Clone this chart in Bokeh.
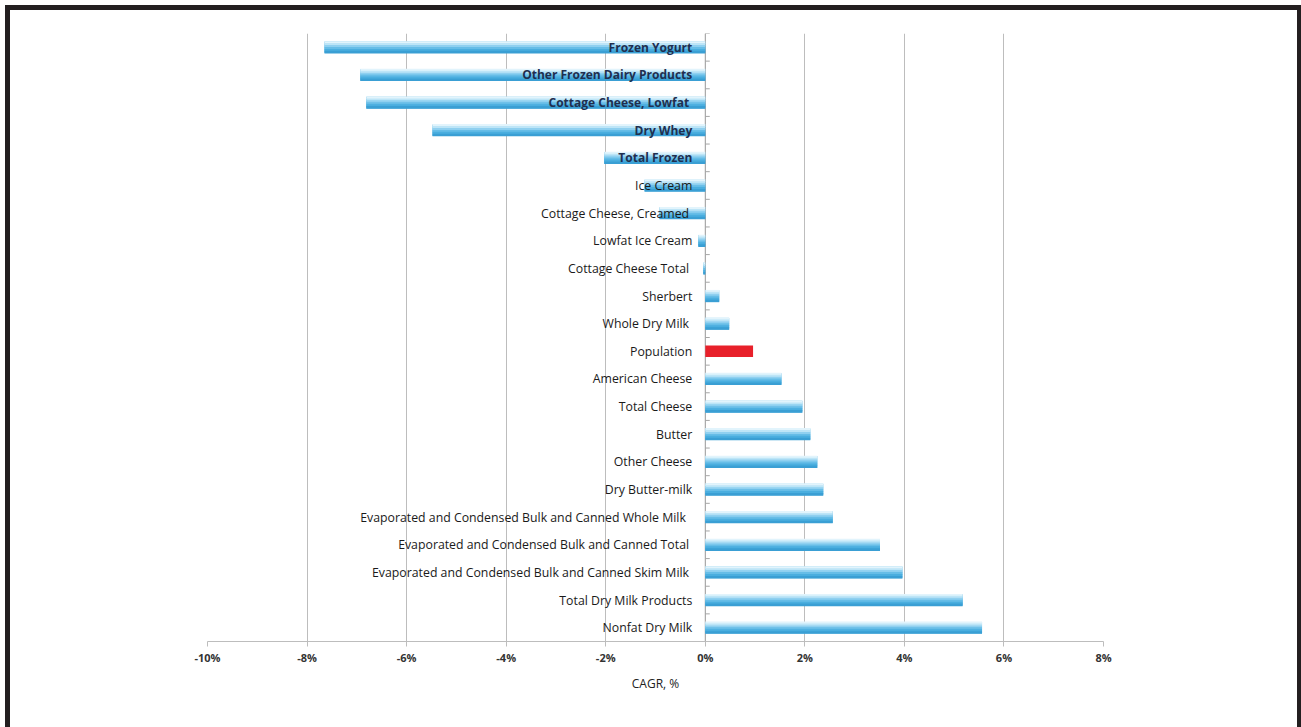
from bokeh.plotting import figure
from bokeh.models import Range1d
from bokeh.core.properties import value
from bokeh.embed import file_html
from bokeh.resources import INLINE

categories = [
    "Frozen Yogurt", "Other Frozen Dairy Products", "Cottage  Cheese, Lowfat", "Dry Whey",
    "Total Frozen", "Ice Cream", "Cottage  Cheese, Creamed", "Lowfat Ice Cream",
    "Cottage  Cheese Total", "Sherbert", "Whole  Dry Milk", "Population",
    "American Cheese", "Total Cheese", "Butter", "Other Cheese", "Dry Butter-milk",
    "Evaporated and Condensed  Bulk and Canned Whole  Milk",
    "Evaporated and Condensed  Bulk and Canned Total",
    "Evaporated and Condensed  Bulk and Canned Skim Milk",
    "Total Dry Milk Products", "Nonfat Dry Milk",
]
cagr = [-7.65, -6.93, -6.81, -5.48, -2.03, -1.22, -0.92, -0.14, -0.04, 0.28, 0.48, 0.96,
        1.53, 1.95, 2.11, 2.25, 2.37, 2.56, 3.51, 3.96, 5.17, 5.56]
highlight = "Population"
x_ticks = [-10, -8, -6, -4, -2, 0, 2, 4, 6, 8]
x_tick_labels = ["-10%", "-8%", "-6%", "-4%", "-2%", "0%", "2%", "4%", "6%", "8%"]

n = len(categories)
ys = list(range(n))

p = figure(width=1296, height=722, x_range=Range1d(x_ticks[0], x_ticks[-1]),
           y_range=Range1d(n - 0.5, -0.5), output_backend="svg", toolbar_location=None,
           min_border_left=197, min_border_right=203, min_border_top=23, min_border_bottom=91)
p.styles = {"border-left": "5px solid #231f20", "border-top": "5px solid #231f20",
            "border-right": "4px solid #231f20", "margin-left": "5px", "margin-top": "5px"}
p.outline_line_color = None
p.background_fill_color = "white"
p.border_fill_color = "white"

p.yaxis.visible = False
p.ygrid.visible = False
p.xgrid.ticker = x_ticks
p.xgrid.grid_line_color = "#BDBDBD"
p.xgrid.grid_line_width = 1

ax = p.xaxis[0]
ax.ticker = x_ticks
ax.major_label_overrides = dict(zip(x_ticks, x_tick_labels))
ax.axis_line_color = "#BDBDBD"
ax.major_tick_line_color = "#BDBDBD"
ax.major_tick_out = 5
ax.major_tick_in = 0
ax.minor_tick_line_color = None
ax.major_label_text_font = "Open Sans"
ax.major_label_text_font_size = "11px"
ax.major_label_text_font_style = "bold"
ax.major_label_text_color = "#333333"
ax.major_label_standoff = 3
ax.axis_label = "CAGR, %"
ax.axis_label_text_font = "Open Sans"
ax.axis_label_text_font_size = "12px"
ax.axis_label_text_font_style = "normal"
ax.axis_label_text_color = "#222222"
ax.axis_label_standoff = 7

# zero axis with category boundary ticks
p.segment(x0=[0], y0=[-0.5], x1=[0], y1=[n - 0.5], line_color="#A6A6A6", line_width=1)
bounds = [i - 0.5 for i in range(n + 1)]
p.segment(x0=[0] * len(bounds), y0=bounds, x1=[0.09] * len(bounds), y1=bounds,
          line_color="#A6A6A6", line_width=1)

# gradient bars (light top, saturated bottom)
H = 0.42
blue_idx = [i for i, c in enumerate(categories) if c != highlight]
p.hbar(y=[ys[i] for i in blue_idx], left=[0] * len(blue_idx), right=[cagr[i] for i in blue_idx],
       height=H, fill_color="#4AAEDF", line_color=None)
band_cols = ["#E2F4FC", "#BDE5F7", "#8FD0F0", "#66BDE7", "#4AAEDF", "#3A9FD4"]
B = len(band_cols)
for k, col in enumerate(band_cols):
    yb = [ys[i] - H / 2 + (k + 0.5) * H / B for i in blue_idx]
    p.hbar(y=yb, left=[0] * len(blue_idx), right=[cagr[i] for i in blue_idx],
           height=H / B * 1.35, fill_color=col, line_color=None)

red_idx = [i for i, c in enumerate(categories) if c == highlight]
p.hbar(y=[ys[i] for i in red_idx], left=[0] * len(red_idx), right=[cagr[i] for i in red_idx],
       height=H, fill_color="#E8202A", line_color=None)

# category labels next to the zero axis
bold_idx = [i for i in range(n) if cagr[i] < -1.5]
norm_idx = [i for i in range(n) if cagr[i] >= -1.5]
p.text(x=[0] * len(norm_idx), y=[ys[i] for i in norm_idx], text=[categories[i] for i in norm_idx],
       x_offset=-13, text_align="right", text_baseline="middle",
       text_font=value("Open Sans"), text_font_size="12.3px", text_color="#1a1a1a")
p.text(x=[0] * len(bold_idx), y=[ys[i] for i in bold_idx], text=[categories[i] for i in bold_idx],
       x_offset=-13, text_align="right", text_baseline="middle",
       text_font=value("Open Sans"), text_font_size="12px", text_font_style="bold",
       text_color="#1F2F4F")

open("out.html", "w").write(file_html(p, INLINE))
